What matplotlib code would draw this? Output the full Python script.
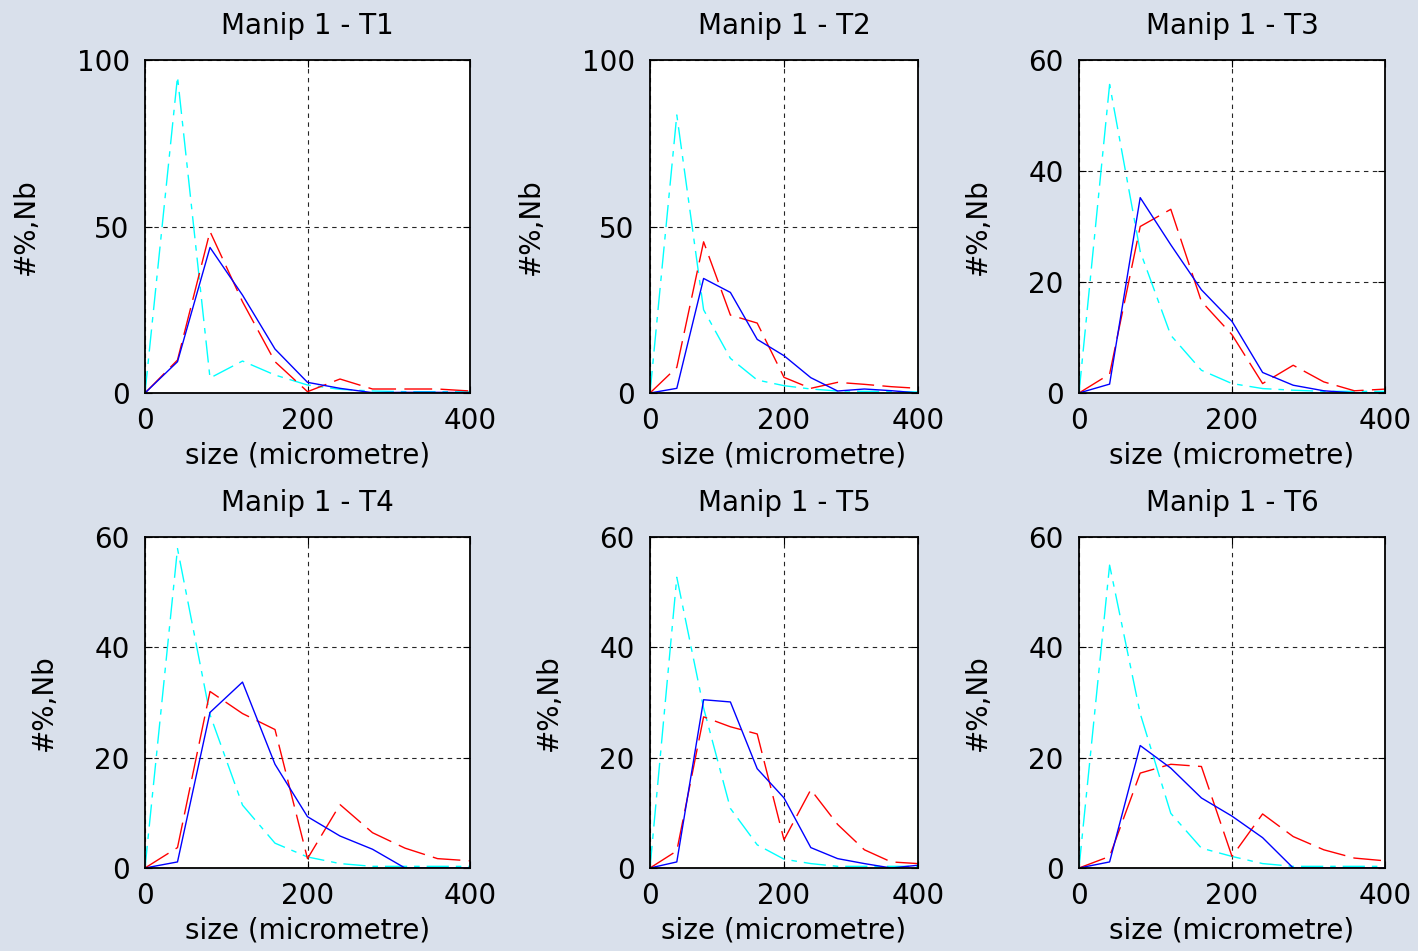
import matplotlib
matplotlib.use('Agg')
import matplotlib.pyplot as plt

# bin centres (micrometre)
size_um = [0, 40, 80, 120, 160, 200, 240, 280, 320, 360, 400]

titles = ['Manip 1 - T1', 'Manip 1 - T2', 'Manip 1 - T3',
          'Manip 1 - T4', 'Manip 1 - T5', 'Manip 1 - T6']
ymax = [100, 100, 60, 60, 60, 60]
yticks = [[0, 50, 100], [0, 50, 100], [0, 20, 40, 60],
          [0, 20, 40, 60], [0, 20, 40, 60], [0, 20, 40, 60]]

# cyan dash-dot curves
nb_cyan = [
    [0, 95, 4.5, 9.6, 5.4, 2.4, 1.1, 0.6, 0.4, 0.4, 0.4],
    [0, 83.5, 25, 10.4, 3.9, 2.2, 1.2, 0.6, 0.5, 0.5, 0.3],
    [0, 55.6, 25.5, 10.4, 4.1, 1.7, 0.8, 0.5, 0.3, 0.3, 0.3],
    [0, 57.9, 27.8, 11.4, 4.5, 2.0, 0.8, 0.3, 0.3, 0.3, 0.3],
    [0, 52.7, 29, 10.8, 4.2, 1.6, 0.8, 0.3, 0.3, 0.3, 0.3],
    [0, 54.9, 28, 9.9, 3.6, 2.1, 0.8, 0.3, 0.3, 0.3, 0.3],
]
# red dashed curves
nb_red = [
    [0, 9.9, 48.5, 27.4, 9.4, 0.4, 4.2, 1.2, 1.2, 1.2, 0.6],
    [0, 7.7, 45.4, 23.4, 21, 4.7, 1.4, 3.2, 2.6, 1.9, 1.4],
    [0, 3.4, 30, 33.1, 16.5, 10.5, 1.7, 5, 2, 0.4, 0.7],
    [0, 3.7, 32, 28, 25.1, 1.7, 11.5, 6.4, 3.6, 1.7, 1.3],
    [0, 3.1, 27.4, 25.6, 24.3, 5.1, 14.2, 7.9, 3.3, 1.1, 0.8],
    [0, 2.1, 17.2, 18.8, 18.4, 2.1, 9.8, 5.7, 3.3, 1.8, 1.3],
]
# blue solid curves
nb_blue = [
    [0, 9.4, 43.7, 29.4, 13.2, 3.2, 1.4, 0.1, 0.2, 0.2, 0.1],
    [0, 1.4, 34.4, 30.2, 16.1, 11.2, 4.6, 0.6, 1.2, 0.7, 0],
    [0, 1.6, 35.2, 26.7, 18.6, 12.9, 3.7, 1.4, 0.4, 0, 0],
    [0, 1.1, 28.2, 33.7, 18.8, 9.3, 5.8, 3.4, 0, 0, 0],
    [0, 1.1, 30.5, 30.1, 18, 12.7, 3.7, 1.7, 0.8, 0, 0.5],
    [0, 1.1, 22.2, 18.1, 12.7, 9.4, 5.5, 0, 0, 0, 0],
]

W, H = 1418, 951
# axes boxes in pixels: left, top, right, bottom
boxes = [(145, 60, 470, 393), (650, 60, 918, 393), (1079, 60, 1385, 393),
         (145, 537, 470, 868), (650, 537, 918, 868), (1079, 537, 1385, 868)]
# distance (px) from axes left edge to the ylabel
ylab_off = [105, 105, 87, 87, 87, 87]

bg = '#d9e0eb'
fs = 20
fig = plt.figure(figsize=(W / 100, H / 100), dpi=100, facecolor=bg)

for i in range(6):
    l, t, r, b = boxes[i]
    ax = fig.add_axes([l / W, 1 - b / H, (r - l) / W, (b - t) / H])
    ax.set_facecolor('white')
    ax.plot(size_um, nb_cyan[i], color='#00ffff', lw=1.0, dashes=(16, 5, 4, 5))
    ax.plot(size_um, nb_red[i], color='#ff0000', lw=1.0, dashes=(20, 6))
    ax.plot(size_um, nb_blue[i], color='#0000ff', lw=1.0)
    ax.set_xlim(0, 400)
    ax.set_ylim(0, ymax[i])
    ax.set_xticks([0, 200, 400])
    ax.set_yticks(yticks[i])
    ax.grid(True, color='black', lw=0.8, dashes=(4, 4), alpha=0.85)
    ax.tick_params(direction='in', length=5, top=True, right=True,
                   labelsize=fs, colors='black')
    ax.tick_params(axis='y', pad=11)
    ax.tick_params(axis='x', pad=10)
    for s in ax.spines.values():
        s.set_linewidth(1.3)
        s.set_color('black')
    ax.set_title(titles[i], fontsize=fs, pad=19)
    ax.set_xlabel('size (micrometre)', fontsize=fs, labelpad=5)
    ax.set_ylabel('#%,Nb', fontsize=fs)
    ax.yaxis.set_label_coords(-ylab_off[i] / (r - l), 0.5)

fig.savefig('out.png', dpi=100, facecolor=bg)
